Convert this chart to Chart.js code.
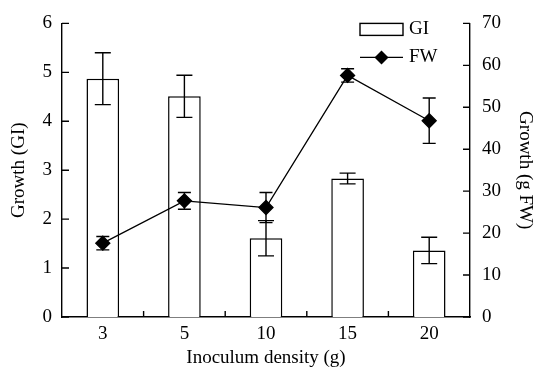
<!DOCTYPE html>
<html>
<head>
<meta charset="utf-8">
<script src="https://cdn.jsdelivr.net/npm/chart.js@4.4.0/dist/chart.umd.min.js"></script>
<style>
html, body { margin: 0; padding: 0; background: #fff; }
#wrap { width: 534px; height: 374px; }
</style>
</head>
<body>
<div id="wrap"><canvas id="myChart"></canvas></div>
<script>
// data
var labels = ['3', '5', '10', '15', '20'];
var giValues = [4.87, 4.51, 1.61, 2.83, 1.36];
var giErrors = [0.53, 0.43, 0.36, 0.11, 0.27];
var fwValues = [17.6, 27.7, 26.1, 57.6, 46.8];
var fwErrors = [1.6, 2.0, 3.6, 1.6, 5.4];
var giTicks = [0, 1, 2, 3, 4, 5, 6];
var fwTicks = [0, 10, 20, 30, 40, 50, 60, 70];

var FONT = 'Liberation Serif, Times New Roman, serif';
Chart.defaults.font.family = FONT;
Chart.defaults.font.size = 19;
Chart.defaults.color = '#000';

// error bars drawn from the dataset's own scale
var errorBars = {
    id: 'errorBars',
    afterDatasetDraw: function(chart, args) {
        var ds = chart.data.datasets[args.index];
        if (!ds.errors) return;
        var ys = chart.scales[ds.yAxisID];
        var c = chart.ctx;
        c.save();
        c.strokeStyle = '#000';
        c.lineWidth = 1.4;
        args.meta.data.forEach(function(el, i) {
            var v = ds.data[i], e = ds.errors[i];
            var top = ys.getPixelForValue(v + e);
            var bot = ys.getPixelForValue(v - e);
            var w = ds.capWidth / 2;
            c.beginPath();
            c.moveTo(el.x, top); c.lineTo(el.x, bot);
            c.moveTo(el.x - w, top); c.lineTo(el.x + w, top);
            c.moveTo(el.x - w, bot); c.lineTo(el.x + w, bot);
            c.stroke();
        });
        c.restore();
    }
};

// inward tick marks + legend
var frame = {
    id: 'frame',
    afterDraw: function(chart) {
        var c = chart.ctx, a = chart.chartArea;
        var x = chart.scales.x, y = chart.scales.y, y1 = chart.scales.y1;
        c.save();
        c.strokeStyle = '#000';
        c.lineWidth = 1.4;
        c.beginPath();
        giTicks.forEach(function(t) {
            var p = y.getPixelForValue(t);
            c.moveTo(a.left, p); c.lineTo(a.left + 7, p);
        });
        fwTicks.forEach(function(t) {
            var p = y1.getPixelForValue(t);
            c.moveTo(a.right, p); c.lineTo(a.right - 7, p);
        });
        for (var i = 1; i < labels.length; i++) {
            var p = (x.getPixelForTick(i - 1) + x.getPixelForTick(i)) / 2;
            c.moveTo(p, a.bottom); c.lineTo(p, a.bottom - 6);
        }
        c.stroke();

        // legend
        var lx = a.right - 110, ly = a.top;
        c.fillStyle = '#fff';
        c.fillRect(lx, ly, 43, 12);
        c.strokeRect(lx, ly, 43, 12);
        c.beginPath();
        c.moveTo(lx, ly + 34); c.lineTo(lx + 43, ly + 34);
        c.stroke();
        c.fillStyle = '#000';
        c.beginPath();
        c.moveTo(lx + 21.5, ly + 27); c.lineTo(lx + 28.5, ly + 34);
        c.lineTo(lx + 21.5, ly + 41); c.lineTo(lx + 14.5, ly + 34);
        c.closePath(); c.fill();
        c.font = '19px ' + FONT;
        c.textBaseline = 'middle';
        c.fillText('GI', lx + 49, ly + 6);
        c.fillText('FW', lx + 49, ly + 34);
        c.restore();
    }
};

var ctx = document.getElementById('myChart').getContext('2d');
var chart = new Chart(ctx, {
    type: 'bar',
    data: {
        labels: labels,
        datasets: [{
                type: 'line',
                label: 'FW',
                data: fwValues,
                errors: fwErrors,
                capWidth: 13,
                yAxisID: 'y1',
                borderColor: '#000',
                borderWidth: 1.3,
                lineTension: 0,
                fill: false,
                pointStyle: 'rectRot',
                pointRadius: 7,
                pointBackgroundColor: '#000',
                pointBorderColor: '#000',
                order: 1
            },
            {
                label: 'GI',
                data: giValues,
                errors: giErrors,
                capWidth: 16,
                yAxisID: 'y',
                backgroundColor: '#fff',
                borderColor: '#000',
                borderWidth: 1.5,
                barPercentage: 0.8,
                categoryPercentage: 0.5,
                order: 2
            }
        ]
    },
    options: {
        responsive: true,
        maintainAspectRatio: false,
        animation: false,
        layout: { padding: { top: 22, left: 0, right: 0, bottom: 0 } },
        plugins: { legend: { display: false }, tooltip: { enabled: false } },
        scales: {
            x: {
                offset: true,
                grid: { display: false, drawTicks: false },
                border: { color: '#000', width: 1.4 },
                ticks: { padding: 6, maxRotation: 0 },
                title: { display: true, text: 'Inoculum density (g)', font: { lineHeight: 1 }, padding: { top: 0, bottom: 6 } },
                afterFit: function(s) { s.height = 57; }
            },
            y: {
                position: 'left',
                min: giTicks[0], max: giTicks[giTicks.length - 1],
                grid: { display: false, drawTicks: false },
                border: { color: '#000', width: 1.4 },
                ticks: { stepSize: 1, padding: 10 },
                title: { display: true, text: 'Growth (GI)', font: { lineHeight: 1 }, padding: { top: 10, bottom: 0 } },
                afterFit: function(s) { s.width = 62; }
            },
            y1: {
                position: 'right',
                min: fwTicks[0], max: fwTicks[fwTicks.length - 1],
                grid: { display: false, drawTicks: false },
                border: { color: '#000', width: 1.4 },
                ticks: { stepSize: 10, padding: 12 },
                title: { display: true, text: 'Growth (g FW)', font: { lineHeight: 1 }, padding: { top: 0, bottom: 0 } },
                afterFit: function(s) { s.width = 64; }
            }
        }
    },
    plugins: [errorBars, frame]
});
</script>
</body>
</html>
